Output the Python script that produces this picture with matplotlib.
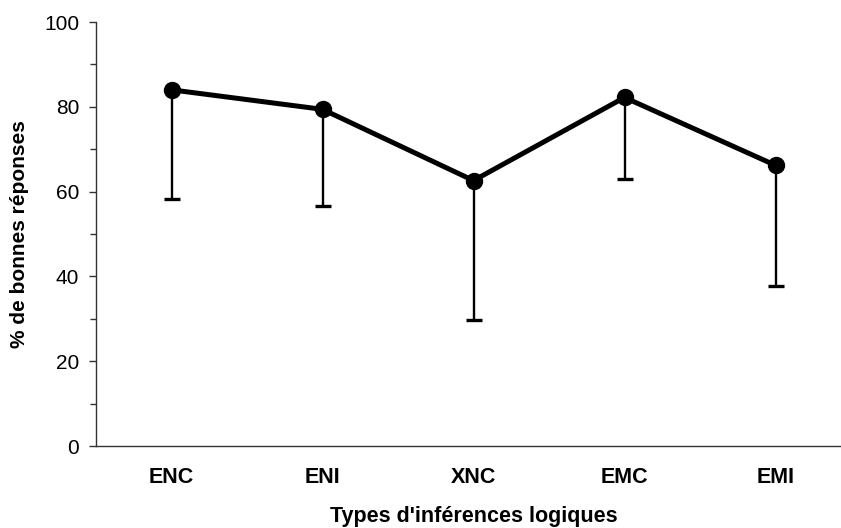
import matplotlib.pyplot as plt
import numpy as np
from matplotlib.ticker import MultipleLocator

categories = ["ENC", "ENI", "XNC", "EMC", "EMI"]
means = [84.0, 79.4, 62.6, 82.2, 66.2]
lower_err = [25.7, 22.7, 33.0, 19.2, 28.5]

plt.rcParams["font.family"] = ["Liberation Sans", "DejaVu Sans"]

fig = plt.figure(figsize=(8.41, 5.28), dpi=100)
# axes run a little past the right edge, like the original
ax = fig.add_axes([96 / 841, 1 - 446 / 528, 755 / 841, 424 / 528])

x = np.arange(len(categories))
yerr = np.array([lower_err, np.zeros(len(lower_err))])

ax.errorbar(x, means, yerr=yerr, fmt="none", ecolor="black",
            elinewidth=1.7, capsize=5.8, capthick=2.4, zorder=2)
ax.plot(x, means, color="black", linewidth=3.6, marker="o",
        markersize=11.5, zorder=3)

ax.set_xlim(-0.5, 4.5)
ax.set_ylim(0, 100)
ax.yaxis.set_major_locator(MultipleLocator(20))
ax.yaxis.set_minor_locator(MultipleLocator(10))
ax.set_xticks(x)
ax.set_xticklabels(categories, fontsize=15.5, fontweight="bold")

for s in ["top", "right"]:
    ax.spines[s].set_visible(False)
for s in ["left", "bottom"]:
    ax.spines[s].set_linewidth(1.0)
    ax.spines[s].set_color("#333333")

ax.tick_params(axis="x", length=0, pad=15)
ax.tick_params(axis="y", which="major", length=5, width=1.0,
               color="#333333", labelsize=15, pad=7)
ax.tick_params(axis="y", which="minor", length=4, width=1.0, color="#333333")

ax.set_xlabel("Types d'inférences logiques", fontsize=15.5,
              fontweight="bold", labelpad=13)
ax.set_ylabel("% de bonnes réponses", fontsize=15,
              fontweight="bold", labelpad=11)

fig.savefig("out.png", dpi=100)
